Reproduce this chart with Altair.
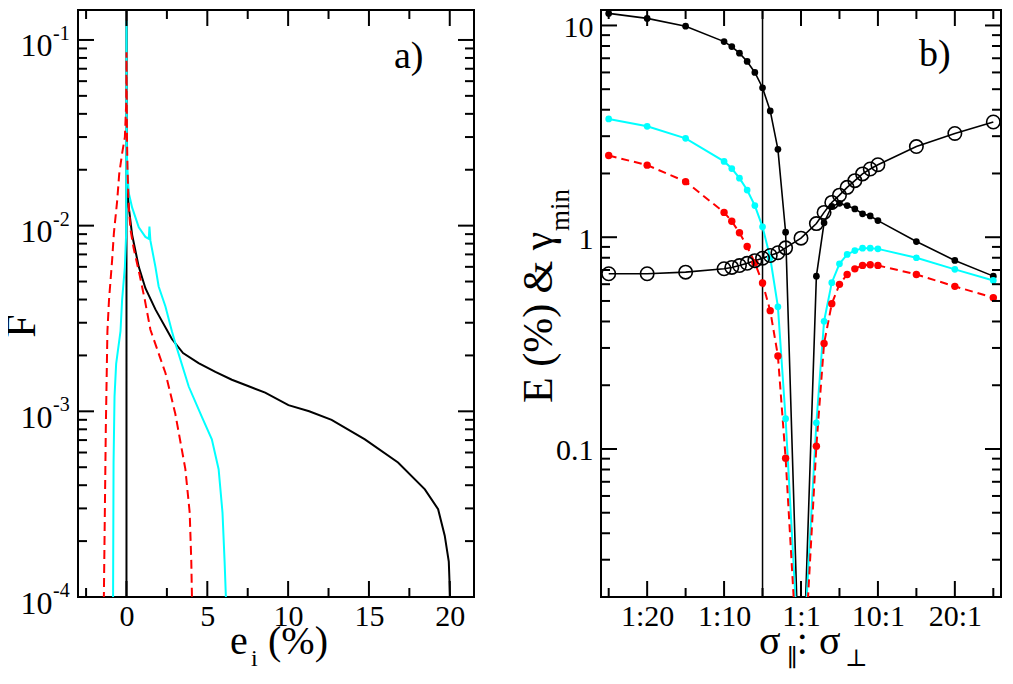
import altair as alt
import pandas as pd

FONT = "Liberation Serif, Times New Roman, Times, DejaVu Serif, serif"
SYM = "Liberation Serif, DejaVu Serif, serif"

# ---------------- panel a) : distributions F(e_i) ----------------
a_black_x = [-0.001, 0.0, 0.02, 0.14, 0.35, 0.76, 1.17, 1.79, 2.81, 3.5, 4.46, 5.5, 6.52, 7.6,
             8.58, 10.02, 11.3, 12.69, 14.75, 16.8, 18.46, 19.28, 19.69, 19.94, 20.02, 20.06]
a_black_F = [1e-6, 0.5, 0.018, 0.0126, 0.0089, 0.0060, 0.0046, 0.00354, 0.00245, 0.00206, 0.00182,
             0.00163, 0.00148, 0.00136, 0.00126, 0.00108, 0.00100, 0.00090, 0.000706, 0.00053,
             0.00038, 0.000297, 0.000214, 0.000155, 0.0001, 0.00004]

a_red_x = [-1.43, -1.40, -1.28, -1.18, -1.08, -0.89, -0.78, -0.58, -0.45, -0.27, -0.10, -0.02, 0.0,
           0.03, 0.06, 0.14, 0.25, 0.45, 0.76, 1.13, 1.48, 2.41, 3.02, 3.64, 3.91, 4.01, 4.05, 4.08]
a_red_F = [0.00004, 0.0001, 0.0008, 0.0027, 0.0040, 0.0065, 0.0091, 0.0135, 0.019, 0.0245, 0.030,
           0.045, 0.0858, 0.03, 0.0207, 0.0126, 0.0095, 0.0075, 0.0057, 0.0040, 0.00275, 0.00161,
           0.00097, 0.00049, 0.000285, 0.000155, 0.0001, 0.00004]

a_cyan_x = [-0.85, -0.83, -0.80, -0.74, -0.64, -0.37, -0.27, -0.10, -0.02, 0.0, 0.02, 0.06, 0.14,
            0.35, 0.76, 1.17, 1.38, 1.42, 1.48, 1.79, 1.99, 2.41, 2.81, 3.02, 3.85, 4.67, 5.28,
            5.70, 5.94, 6.07, 6.15, 6.18]
a_cyan_F = [0.00004, 0.0001, 0.00053, 0.0012, 0.0018, 0.0027, 0.0040, 0.0060, 0.0091, 0.127, 0.025,
            0.020, 0.0150, 0.0125, 0.0098, 0.0087, 0.0085, 0.0099, 0.0083, 0.0060, 0.0047, 0.00367,
            0.0027, 0.00233, 0.00136, 0.00093, 0.000706, 0.000488, 0.000285, 0.000155, 0.0001,
            0.00004]

a_xmajor = [0, 5, 10, 15, 20]
a_xminor = [-2.5, 2.5, 7.5, 12.5, 17.5]
a_ymajor = [1e-4, 1e-3, 1e-2, 1e-1]
a_ysup = ["-4", "-3", "-2", "-1"]
a_yminor = [m * 10.0 ** e for e in (-4, -3, -2) for m in range(2, 10)]

# ---------------- panel b) : E and gamma_min vs anisotropy ----------------
b_x = [-25, -20, -15, -10, -9, -8, -7, -6, -5, -4, -3, -2, 0, 2, 3, 4, 5, 6, 7, 8, 9, 10, 15, 20, 25]
b_black = [11.4, 10.8, 9.92, 8.39, 7.95, 7.40, 6.76, 6.0, 5.08, 3.95, 2.6, 1.056, 0.0043, 0.655,
           1.17, 1.40, 1.445, 1.41, 1.36, 1.29, 1.26, 1.198, 0.954, 0.777, 0.655]
b_cyan = [3.62, 3.34, 2.93, 2.28, 2.11, 1.90, 1.67, 1.41, 1.12, 0.80, 0.469, 0.139, 0.0065, 0.133,
          0.401, 0.61, 0.749, 0.829, 0.865, 0.888, 0.888, 0.881, 0.80, 0.705, 0.625]
b_red = [2.43, 2.19, 1.83, 1.31, 1.19, 1.05, 0.904, 0.757, 0.608, 0.45, 0.275, 0.0905, 0.005, 0.103,
         0.315, 0.485, 0.599, 0.667, 0.709, 0.736, 0.741, 0.736, 0.667, 0.586, 0.518]
b_gamma = [0.672, 0.672, 0.684, 0.71, 0.72, 0.735, 0.753, 0.775, 0.796, 0.82, 0.845, 0.891, 0.99,
           1.16, 1.31, 1.46, 1.58, 1.72, 1.85, 1.99, 2.10, 2.20, 2.68, 3.09, 3.50]
b_vline = [-5]

b_xmajor = [-20, -10, 0, 10, 20]
b_xminor = [-25, -15, -5, 5, 15, 25]
b_ymajor = [0.1, 1, 10]
b_yminor = [m * 10.0 ** e for e in (-2, -1, 0, 1) for m in range(2, 10)
            if 0.0205 <= m * 10.0 ** e <= 11.5]

W1, W2, H = 396, 400, 587
SPACING = 127
MAJ, MIN = 16, 9


def ticks(vals, xf, yf, W, length, axis_x, axis_y):
    out = []
    if xf is not None:
        df = pd.DataFrame({xf[0]: vals})
        for y0, y1 in ((H, H - length), (0, length)):
            out.append(alt.Chart(df).mark_rule(color="black", strokeWidth=2).encode(
                x=alt.X(f"{xf[0]}:Q", scale=xf[1], axis=axis_x),
                y=alt.value(y0), y2=alt.value(y1)))
    else:
        df = pd.DataFrame({yf[0]: vals})
        for x0, x1 in ((0, length), (W, W - length)):
            out.append(alt.Chart(df).mark_rule(color="black", strokeWidth=2).encode(
                y=alt.Y(f"{yf[0]}:Q", scale=yf[1], axis=axis_y),
                x=alt.value(x0), x2=alt.value(x1)))
    return out


def label(text, x, y, size, align="left", angle=0, baseline="alphabetic", font=FONT):
    kw = dict(text=text, align=align, baseline=baseline, fontSize=size, font=font, color="black")
    if angle:
        kw["angle"] = angle
    return alt.Chart(pd.DataFrame({"k": [0]})).mark_text(**kw).encode(
        x=alt.value(x), y=alt.value(y))


# ---------- panel a ----------
a_xs = alt.Scale(domain=[-3, 21.5], nice=False, zero=False)
a_ys = alt.Scale(type="log", domain=[1e-4, 0.145], nice=False)
a_xaxis = alt.Axis(values=a_xmajor, ticks=False, domain=False, grid=False, title=None,
                   labelFont=FONT, labelFontSize=30, labelPadding=4, labelColor="black",
                   labelFlush=False, labelOverlap=False)
a_yaxis = alt.Axis(values=a_ymajor, labelExpr="'10'", ticks=False, domain=False, grid=False,
                   title=None, labelFont=FONT, labelFontSize=32, labelPadding=26, labelOffset=6,
                   labelColor="black", labelFlush=False, labelOverlap=False)


def a_line(xs, ys, color, dash=None):
    df = pd.DataFrame({"x": xs, "F": ys, "i": range(len(xs))})
    kw = dict(color=color, strokeWidth=2, clip=True)
    if dash:
        kw["strokeDash"] = dash
    return alt.Chart(df).mark_line(**kw).encode(
        x=alt.X("x:Q", scale=a_xs, axis=a_xaxis),
        y=alt.Y("F:Q", scale=a_ys, axis=a_yaxis),
        order="i:Q")


a_layers = [
    a_line(a_black_x, a_black_F, "black"),
    a_line(a_cyan_x, a_cyan_F, "#00ffff"),
    a_line(a_red_x, a_red_F, "#ff0000", [9, 5]),
]
a_layers += ticks(a_xmajor, ("x", a_xs), None, W1, MAJ, a_xaxis, a_yaxis)
a_layers += ticks(a_xminor, ("x", a_xs), None, W1, MIN, a_xaxis, a_yaxis)
a_layers += ticks(a_ymajor, None, ("F", a_ys), W1, MAJ, a_xaxis, a_yaxis)
a_layers += ticks(a_yminor, None, ("F", a_ys), W1, MIN, a_xaxis, a_yaxis)
a_layers.append(
    alt.Chart(pd.DataFrame({"F": a_ymajor, "s": a_ysup})).mark_text(
        align="left", baseline="middle", dy=-6, fontSize=20, font=FONT, color="black").encode(
        y=alt.Y("F:Q", scale=a_ys, axis=a_yaxis), x=alt.value(-25), text="s:N"))
a_layers += [
    label("F", -43, 316, 42, align="center", angle=270),
    label("e", 152, 644, 40),
    label("i", 173, 656, 24),
    label("(%)", 190, 644, 40),
    label("a)", 316, 58, 38),
]
panel_a = alt.layer(*a_layers).properties(width=W1, height=H)

# ---------- panel b ----------
b_xs = alt.Scale(domain=[-26, 26], nice=False, zero=False)
b_ys = alt.Scale(type="log", domain=[0.02, 11.83], nice=False)
b_xaxis = alt.Axis(values=b_xmajor, ticks=False, domain=False, grid=False, title=None,
                   labelExpr="datum.value < 0 ? '1:' + (-datum.value) : "
                             "(datum.value == 0 ? '1:1' : datum.value + ':1')",
                   labelFont=FONT, labelFontSize=30, labelPadding=4, labelColor="black",
                   labelFlush=False, labelOverlap=False)
b_yaxis = alt.Axis(values=b_ymajor, format="~g", ticks=False, domain=False, grid=False,
                   title=None, labelFont=FONT, labelFontSize=30, labelPadding=8, labelOffset=2,
                   labelColor="black", labelFlush=False, labelOverlap=False)

b_df = pd.DataFrame({"x": b_x, "black": b_black, "cyan": b_cyan, "red": b_red, "gamma": b_gamma})


def b_enc(field):
    return dict(x=alt.X("x:Q", scale=b_xs, axis=b_xaxis),
                y=alt.Y(f"{field}:Q", scale=b_ys, axis=b_yaxis))


def b_line(field, color, width, dash=None):
    kw = dict(color=color, strokeWidth=width, clip=True)
    if dash:
        kw["strokeDash"] = dash
    return alt.Chart(b_df).mark_line(**kw).encode(**b_enc(field))


def b_dots(field, color, size):
    return alt.Chart(b_df).transform_filter(f"datum.{field} >= 0.02").mark_circle(
        color=color, size=size, opacity=1).encode(**b_enc(field))


b_layers = [
    alt.Chart(pd.DataFrame({"x": b_vline})).mark_rule(color="black", strokeWidth=1.5).encode(
        x=alt.X("x:Q", scale=b_xs, axis=b_xaxis)),
    b_line("black", "black", 1.6),
    b_line("cyan", "#00ffff", 2),
    b_line("red", "#ff0000", 2, [8, 5]),
    b_line("gamma", "black", 1.6),
    b_dots("black", "black", 45),
    b_dots("cyan", "#00ffff", 45),
    b_dots("red", "#ff0000", 55),
    alt.Chart(b_df).mark_point(shape="circle", filled=False, color="black", size=180,
                               strokeWidth=1.6, opacity=1).encode(**b_enc("gamma")),
]
b_layers += ticks(b_xmajor, ("x", b_xs), None, W2, MAJ, b_xaxis, b_yaxis)
b_layers += ticks(b_xminor, ("x", b_xs), None, W2, MIN, b_xaxis, b_yaxis)
b_layers += ticks(b_ymajor, None, ("black", b_ys), W2, MAJ, b_xaxis, b_yaxis)
b_layers += ticks(b_yminor, None, ("black", b_ys), W2, MIN, b_xaxis, b_yaxis)
b_layers += [
    label("E (%) & γ", -49, 393, 42, angle=270),
    label("min", -32, 221, 27, angle=270),
    label("σ", 158, 644, 40, font=SYM),
    label("∥", 186, 656, 24, font=SYM),
    label(":", 201.3, 644, 40, align="center"),
    label("σ", 218, 644, 40, font=SYM),
    label("⊥", 244, 656, 24, font=SYM),
    label("b)", 318, 56, 38),
]
panel_b = alt.layer(*b_layers).properties(width=W2, height=H)

chart = alt.hconcat(panel_a, panel_b, spacing=SPACING, bounds="flush").configure_view(
    stroke="black", strokeWidth=2).properties(
    padding={"left": -8, "top": 0, "right": 0, "bottom": 0})

chart.save("out.html", embed_options={"renderer": "svg", "actions": False})
